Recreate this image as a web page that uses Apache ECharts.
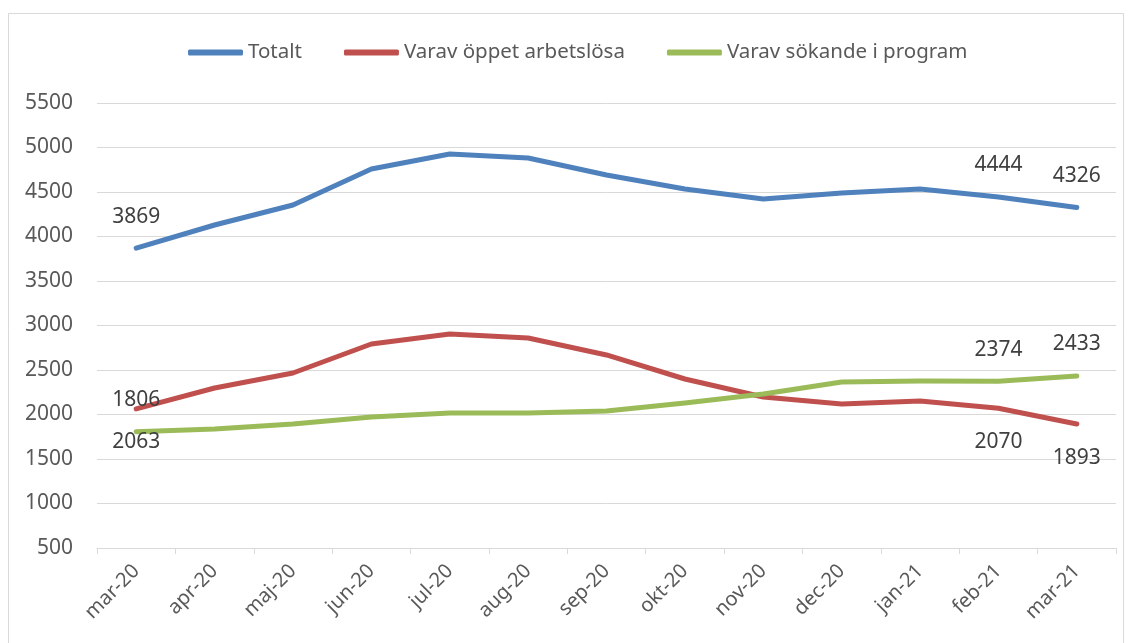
<!DOCTYPE html>
<html>
<head>
<meta charset="utf-8">
<script src="https://cdn.jsdelivr.net/npm/echarts@6/dist/echarts.min.js"></script>
<style>
  html, body { margin: 0; padding: 0; background: #fff; }
  #chart { width: 1132px; height: 643px; }
</style>
</head>
<body>
<div id="chart"></div>
<script>
// kategorier (månader)
var months = ['mar-20', 'apr-20', 'maj-20', 'jun-20', 'jul-20', 'aug-20', 'sep-20',
              'okt-20', 'nov-20', 'dec-20', 'jan-21', 'feb-21', 'mar-21'];

var totalt = [3869, 4129, 4354, 4758, 4927, 4882, 4691, 4534, 4421, 4489, 4534, 4444, 4326];
var oppetArbetslosa = [2063, 2298, 2466, 2792, 2904, 2860, 2669, 2399, 2197, 2118, 2152, 2070, 1893];
var sokandeProgram = [1806, 1837, 1893, 1972, 2017, 2017, 2040, 2129, 2230, 2365, 2376, 2374, 2433];

var yTicks = [500, 1000, 1500, 2000, 2500, 3000, 3500, 4000, 4500, 5000, 5500];

// vilka punkter som har etikett (första och två sista)
var labelledIdx = [0, 11, 12];

var font = '"Noto Sans", sans-serif';

function withLabels(values, pos, dist) {
    return values.map(function (v, i) {
        if (labelledIdx.indexOf(i) < 0) return v;
        return {
            value: v,
            label: {
                show: true,
                position: pos,
                distance: dist,
                color: '#404040',
                fontSize: 21,
                fontFamily: font
            }
        };
    });
}

var chart = echarts.init(document.getElementById('chart'), null, {renderer: 'canvas'});

var lineStyle = {width: 5, cap: 'round', join: 'round'};

var option = {
    animation: false,
    backgroundColor: '#fff',
    graphic: [{
        type: 'rect',
        shape: {x: 8.5, y: 13.5, width: 1115, height: 640},
        style: {fill: 'none', stroke: '#d9d9d9', lineWidth: 1}
    }],
    legend: {
        top: 37,
        left: 183,
        itemWidth: 55,
        itemHeight: 6,
        itemGap: 42,
        icon: 'roundRect',
        textStyle: {fontSize: 20.5, color: '#595959', fontFamily: font},
        data: ['Totalt', 'Varav öppet arbetslösa', 'Varav sökande i program']
    },
    grid: {
        left: 97,
        right: 16,
        top: 103,
        bottom: 95
    },
    xAxis: {
        type: 'category',
        data: months,
        boundaryGap: true,
        axisLine: {lineStyle: {color: '#d9d9d9', width: 1}},
        axisTick: {show: true, length: 6, lineStyle: {color: '#d9d9d9'}},
        axisLabel: {
            rotate: 45,
            fontSize: 20,
            color: '#595959',
            fontFamily: font,
            margin: 20,
            interval: 0
        }
    },
    yAxis: {
        type: 'value',
        min: yTicks[0],
        max: yTicks[yTicks.length - 1],
        interval: 500,
        axisLine: {show: false},
        axisTick: {show: false},
        splitLine: {lineStyle: {color: '#d9d9d9', width: 1}},
        axisLabel: {
            fontSize: 21,
            color: '#595959',
            fontFamily: font,
            margin: 24,
            formatter: function (v) { return String(v); }
        }
    },
    series: [{
        name: 'Totalt',
        type: 'line',
        data: withLabels(totalt, 'top', 21),
        symbol: 'circle',
        symbolSize: 0,
        color: '#4F81BD',
        lineStyle: lineStyle
    }, {
        name: 'Varav öppet arbetslösa',
        type: 'line',
        data: withLabels(oppetArbetslosa, 'bottom', 23),
        symbol: 'circle',
        symbolSize: 0,
        color: '#C0504D',
        lineStyle: lineStyle
    }, {
        name: 'Varav sökande i program',
        type: 'line',
        data: withLabels(sokandeProgram, 'top', 21),
        symbol: 'circle',
        symbolSize: 0,
        color: '#9BBB59',
        lineStyle: lineStyle
    }]
};

chart.setOption(option);
</script>
</body>
</html>
